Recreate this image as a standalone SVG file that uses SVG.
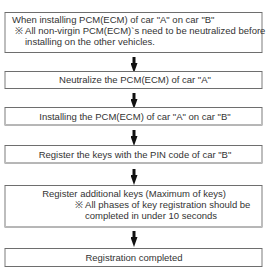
<svg xmlns="http://www.w3.org/2000/svg" width="269" height="279" viewBox="0 0 269 279">
<style>
.bx{fill:#fff;stroke:#6e6e6e;stroke-width:1}
.sd{stroke:#bdbdbd;stroke-width:2}
text{font-family:"Liberation Sans",Arial,sans-serif;font-size:9.5px;fill:#333}
.c{text-anchor:middle}
.ar{stroke:#111;stroke-width:3;fill:none}
</style>
<defs>
<marker id="ah" markerWidth="10" markerHeight="7" refX="0" refY="3.5" markerUnits="userSpaceOnUse" orient="auto">
<path d="M0,0 L10,3.5 L0,7 Z" fill="#111"/>
</marker>
</defs>
<g id="connectors">
<line class="ar" x1="134" y1="57" x2="134" y2="63" marker-end="url(#ah)"/>
<line class="ar" x1="134" y1="93" x2="134" y2="99" marker-end="url(#ah)"/>
<line class="ar" x1="134" y1="130" x2="134" y2="136" marker-end="url(#ah)"/>
<line class="ar" x1="134" y1="169" x2="134" y2="175" marker-end="url(#ah)"/>
<line class="ar" x1="134" y1="231" x2="134" y2="237" marker-end="url(#ah)"/>
</g>
<g id="n1">
<rect class="bx" x="5" y="12.5" width="257" height="40"/>
<line class="sd" x1="5" y1="13" x2="5" y2="52"/><line class="sd" x1="262" y1="13" x2="262" y2="52"/>
<text x="12" y="22.5">When installing PCM(ECM) of car "A" on car "B"</text>
<text x="15" y="33.5">※ All non-virgin PCM(ECM)`s need to be neutralized before</text>
<text x="25" y="44.5">installing on the other vehicles.</text>
</g>
<g id="n2">
<rect class="bx" x="5" y="71.5" width="257" height="17"/>
<line class="sd" x1="5" y1="72" x2="5" y2="88"/><line class="sd" x1="262" y1="72" x2="262" y2="88"/>
<text class="c" x="135" y="83">Neutralize the PCM(ECM) of car "A"</text>
</g>
<g id="n3">
<rect class="bx" x="5" y="107.5" width="257" height="17.5"/>
<line class="sd" x1="5" y1="108" x2="5" y2="125"/><line class="sd" x1="262" y1="108" x2="262" y2="125"/>
<text class="c" x="135" y="119.5">Installing the PCM(ECM) of car "A" on car "B"</text>
</g>
<g id="n4">
<rect class="bx" x="5" y="145.5" width="257" height="17.5"/>
<line class="sd" x1="5" y1="146" x2="5" y2="163"/><line class="sd" x1="262" y1="146" x2="262" y2="163"/>
<text class="c" x="135" y="157.5">Register the keys with the PIN code of car "B"</text>
</g>
<g id="n5">
<rect class="bx" x="5" y="185.5" width="257" height="41.5"/>
<line class="sd" x1="5" y1="186" x2="5" y2="227"/><line class="sd" x1="262" y1="186" x2="262" y2="227"/>
<text class="c" x="134" y="197">Register additional keys (Maximum of keys)</text>
<text x="75" y="208">※ All phases of key registration should be</text>
<text x="85" y="219">completed in under 10 seconds</text>
</g>
<g id="n6">
<rect class="bx" x="5" y="248.5" width="257" height="18"/>
<line class="sd" x1="5" y1="249" x2="5" y2="266"/><line class="sd" x1="262" y1="249" x2="262" y2="266"/>
<text class="c" x="134" y="261">Registration completed</text>
</g>
</svg>
